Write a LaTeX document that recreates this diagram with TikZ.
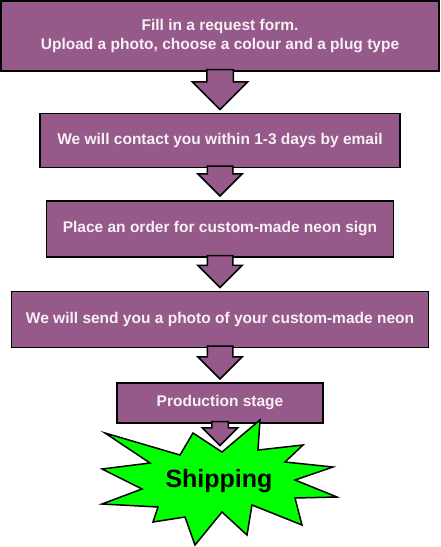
\documentclass[tikz,border=0pt]{standalone}
\usepackage{fontspec}
\setmainfont{Liberation Sans}
\usepackage{tikz}
\usepackage{xcolor}
\usetikzlibrary{positioning,shapes.arrows}

\definecolor{boxpurple}{HTML}{965A8A}
\definecolor{boxtext}{HTML}{F7F0F5}
\definecolor{shipgreen}{HTML}{00FF00}

\begin{document}
\begin{tikzpicture}
[
x=1pt, y=-1pt,
box-a/.style={rectangle, draw, line width=1.5pt, fill=boxpurple, text=boxtext, inner sep=0pt,
              align=center, font=\fontsize{15.5}{19}\selectfont\bfseries},
arrow-a/.style={single arrow, draw, line width=1.5pt, fill=boxpurple, shape border rotate=270,
                single arrow tip angle=90, inner ysep=0pt, anchor=tail},
star-a/.style={draw, line width=1.5pt, fill=shipgreen},
text-a/.style={font=\fontsize{25}{30}\selectfont\bfseries}
]

\useasboundingbox (0,0) rectangle (441,547);

\node (box-1)    [box-a, minimum width=438pt, minimum height=70pt] at (220,36)
                 {Fill in a request form.\\Upload a photo, choose a colour and a plug type};
\node (box-2)    [box-a, minimum width=360pt, minimum height=54pt, below = 41pt of box-1]
                 {We will contact you within 1-3 days by email};
\node (box-3)    [box-a, minimum width=347pt, minimum height=56pt, below = 32pt of box-2]
                 {Place an order for custom-made neon sign};
\node (box-4)    [box-a, minimum width=417pt, minimum height=56pt, below = 33pt of box-3]
                 {We will send you a photo of your custom-made neon};
\node (box-5)    [box-a, minimum width=206pt, minimum height=40pt, below = 34pt of box-4]
                 {Production stage};

\node (box-1-ar) [arrow-a, inner xsep=12.5pt, minimum height=40pt, minimum width=54pt,
                  single arrow head extend=14.5pt] at ([yshift=3pt]box-1.south) {};
\node (box-2-ar) [arrow-a, inner xsep=12pt, minimum height=30pt, minimum width=43pt,
                  single arrow head extend=9.5pt] at ([yshift=3pt]box-2.south) {};
\node (box-3-ar) [arrow-a, inner xsep=12pt, minimum height=32pt, minimum width=43pt,
                  single arrow head extend=9.5pt] at ([yshift=3pt]box-3.south) {};
\node (box-4-ar) [arrow-a, inner xsep=12pt, minimum height=33pt, minimum width=43pt,
                  single arrow head extend=9.5pt] at ([yshift=3pt]box-4.south) {};
\node (box-5-ar) [arrow-a, inner xsep=7.5pt, minimum height=24pt, minimum width=34pt,
                  single arrow head extend=9.5pt] at ([yshift=3pt]box-5.south) {};

% shipping burst
\draw [star-a] (260,420) -- (258,450) -- (303,445) -- (285,462) -- (333,467) -- (295,480)
               -- (337,497) -- (295,498) -- (302,525) -- (252,505) -- (247,535) -- (222,512)
               -- (195,545) -- (185,517) -- (153,522) -- (158,507) -- (102,504) -- (142,489)
               -- (102,469) -- (150,463) -- (105,433) -- (180,455) -- (193,433) -- (222,452)
               -- cycle;
\node (ship)     [text-a, anchor=base] at (219,487) {Shipping};

\end{tikzpicture}
\end{document}
